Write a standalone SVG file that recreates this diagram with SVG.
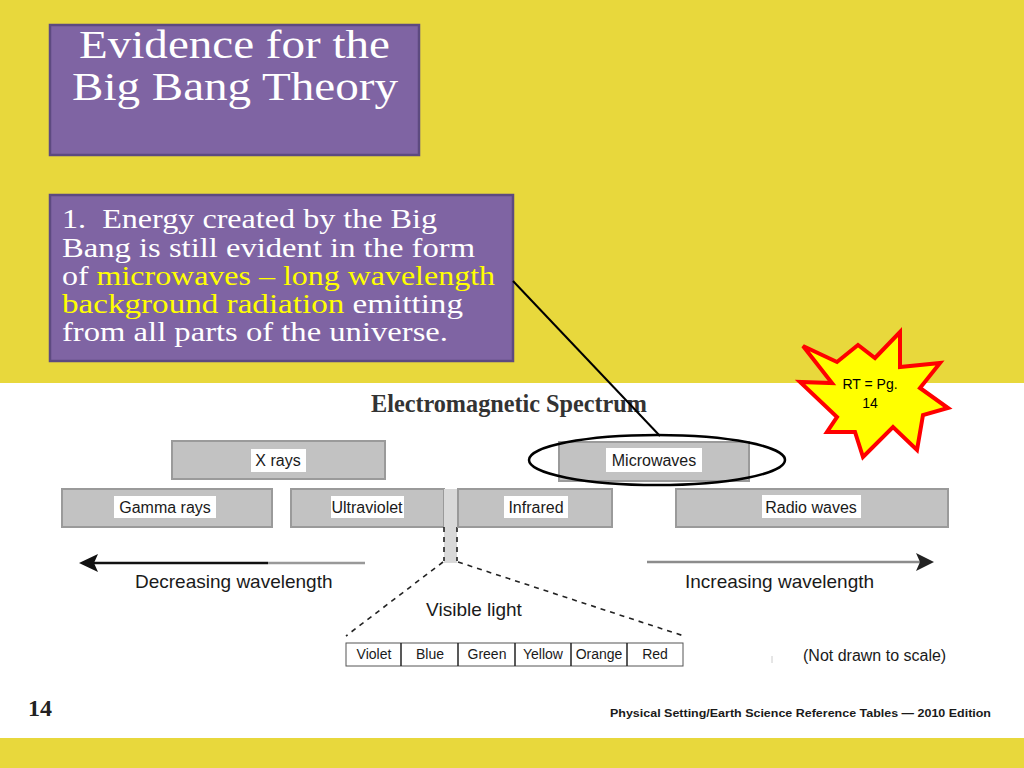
<svg xmlns="http://www.w3.org/2000/svg" width="1024" height="768" viewBox="0 0 1024 768">
<style>
.box{fill:#7f64a3;stroke:#5d4a80;stroke-width:2.5}
.serifW{font-family:"Liberation Serif","Times New Roman",serif;fill:#ffffff}
.hl{fill:#ffff00}
.bar{fill:#c2c2c2;stroke:#9a9a9a;stroke-width:2}
.lab{fill:#ffffff}
.sans{font-family:"Liberation Sans",Arial,sans-serif;fill:#1a1a1a}
.cell{fill:#ffffff;stroke:#555555;stroke-width:1}
.dash{stroke:#222222;stroke-width:1.6;stroke-dasharray:5 5;fill:none}
</style>
<rect x="0" y="0" width="1024" height="768" fill="#e8d83c"/>
<rect x="0" y="383" width="1024" height="355" fill="#ffffff"/>

<g id="title" class="serifW" font-size="41">
<rect class="box" x="50" y="25" width="369" height="130"/>
<text x="79" y="58" textLength="311" lengthAdjust="spacingAndGlyphs">Evidence for the</text>
<text x="72" y="100" textLength="326" lengthAdjust="spacingAndGlyphs">Big Bang Theory</text>
</g>

<g id="evidence1" class="serifW" font-size="28">
<rect class="box" x="50" y="195" width="463" height="166"/>
<text x="62" y="228" textLength="375" lengthAdjust="spacingAndGlyphs">1.&#160; Energy created by the Big</text>
<text x="62" y="257" textLength="413" lengthAdjust="spacingAndGlyphs">Bang is still evident in the form</text>
<text x="62" y="285" textLength="433" lengthAdjust="spacingAndGlyphs">of <tspan class="hl">microwaves – long wavelength</tspan></text>
<text x="62" y="313" textLength="401" lengthAdjust="spacingAndGlyphs"><tspan class="hl">background radiation</tspan> emitting</text>
<text x="62" y="341" textLength="386" lengthAdjust="spacingAndGlyphs">from all parts of the universe.</text>
</g>

<g id="spectrum-title">
<text x="509" y="412" text-anchor="middle" font-family="'Liberation Serif','Times New Roman',serif" font-size="25" font-weight="bold" fill="#333333" textLength="276" lengthAdjust="spacingAndGlyphs">Electromagnetic Spectrum</text>
</g>

<g id="xrays">
<rect class="bar" x="172" y="441" width="213" height="38"/>
<rect class="lab" x="251" y="449" width="55" height="23"/>
<text class="sans" x="278" y="466" font-size="16" text-anchor="middle">X rays</text>
</g>
<g id="microwaves">
<rect class="bar" x="559" y="442" width="190" height="39"/>
<rect class="lab" x="606" y="448" width="96" height="24"/>
<text class="sans" x="654" y="466" font-size="16" text-anchor="middle">Microwaves</text>
</g>
<g id="gamma">
<rect class="bar" x="62" y="489" width="210" height="38"/>
<rect class="lab" x="114" y="496" width="102" height="22"/>
<text class="sans" x="165" y="513" font-size="16" text-anchor="middle">Gamma rays</text>
</g>
<g id="ultraviolet">
<rect class="bar" x="291" y="489" width="153" height="38"/>
<rect class="lab" x="331" y="496" width="73" height="22"/>
<text class="sans" x="367" y="513" font-size="16" text-anchor="middle">Ultraviolet</text>
</g>
<g id="visible-strip">
<rect x="444" y="489" width="13" height="74" fill="#d9d9d9"/>
<line class="dash" x1="444" y1="527" x2="444" y2="561"/>
<line class="dash" x1="457" y1="527" x2="457" y2="561"/>
</g>
<g id="infrared">
<rect class="bar" x="458" y="489" width="154" height="38"/>
<rect class="lab" x="504" y="496" width="64" height="22"/>
<text class="sans" x="536" y="513" font-size="16" text-anchor="middle">Infrared</text>
</g>
<g id="radio">
<rect class="bar" x="676" y="489" width="272" height="38"/>
<rect class="lab" x="762" y="495" width="99" height="23"/>
<text class="sans" x="811" y="513" font-size="16" text-anchor="middle">Radio waves</text>
</g>

<g id="decreasing">
<line x1="90" y1="563" x2="268" y2="563" stroke="#111111" stroke-width="2.5"/>
<line x1="268" y1="563" x2="365" y2="563" stroke="#999999" stroke-width="2.5"/>
<polygon points="79,563 98,554 94,563 98,572" fill="#111111"/>
<text class="sans" x="135" y="588" font-size="19">Decreasing wavelength</text>
</g>
<g id="increasing">
<line x1="647" y1="562" x2="920" y2="562" stroke="#8c8c8c" stroke-width="2.5"/>
<polygon points="934,562 916,553 920,562 916,571" fill="#222222"/>
<text class="sans" x="685" y="588" font-size="19">Increasing wavelength</text>
</g>

<g id="visible-light">
<line class="dash" x1="443" y1="562" x2="346" y2="636"/>
<line class="dash" x1="458" y1="562" x2="684" y2="636"/>
<text class="sans" x="474" y="616" font-size="19" text-anchor="middle">Visible light</text>
<rect class="cell" x="346" y="643" width="337" height="23"/>
<g stroke="#222222" stroke-width="1.5">
<line x1="401" y1="643" x2="401" y2="666"/>
<line x1="458" y1="643" x2="458" y2="666"/>
<line x1="515" y1="643" x2="515" y2="666"/>
<line x1="571" y1="643" x2="571" y2="666"/>
<line x1="627" y1="643" x2="627" y2="666"/>
</g>
<g class="sans" font-size="14" text-anchor="middle">
<text x="374" y="659">Violet</text>
<text x="430" y="659">Blue</text>
<text x="487" y="659">Green</text>
<text x="543" y="659">Yellow</text>
<text x="599" y="659">Orange</text>
<text x="655" y="659">Red</text>
</g>
</g>

<g id="not-to-scale">
<line x1="772" y1="656" x2="772" y2="663" stroke="#cccccc" stroke-width="1"/>
<text class="sans" x="803" y="661" font-size="16">(Not drawn to scale)</text>
</g>

<g id="page-number">
<text x="28" y="716" font-family="'Liberation Serif','Times New Roman',serif" font-size="24" font-weight="bold" fill="#222222">14</text>
</g>
<g id="footer">
<text class="sans" x="991" y="717" font-size="11" font-weight="bold" text-anchor="end" textLength="381" lengthAdjust="spacingAndGlyphs">Physical Setting/Earth Science Reference Tables — 2010 Edition</text>
</g>

<g id="starburst">
<polygon points="803,346 837,362 858,345 875,358 900,332 900,367 940,363 920,388 948,408 923,415 917,450 893,427 863,457 855,432 827,432 837,417 800,382 832,383" fill="#ffff00" stroke="#ff0000" stroke-width="4" stroke-linejoin="miter"/>
<text x="870" y="389" font-family="'Liberation Sans',Arial,sans-serif" font-size="14" text-anchor="middle" fill="#000000">RT = Pg.</text>
<text x="870" y="408" font-family="'Liberation Sans',Arial,sans-serif" font-size="14" text-anchor="middle" fill="#000000">14</text>
</g>

<g id="connectors">
<line x1="513" y1="281" x2="660" y2="436" stroke="#000000" stroke-width="2"/>
<ellipse cx="657" cy="460" rx="128" ry="25" fill="none" stroke="#000000" stroke-width="2.5"/>
</g>
</svg>
